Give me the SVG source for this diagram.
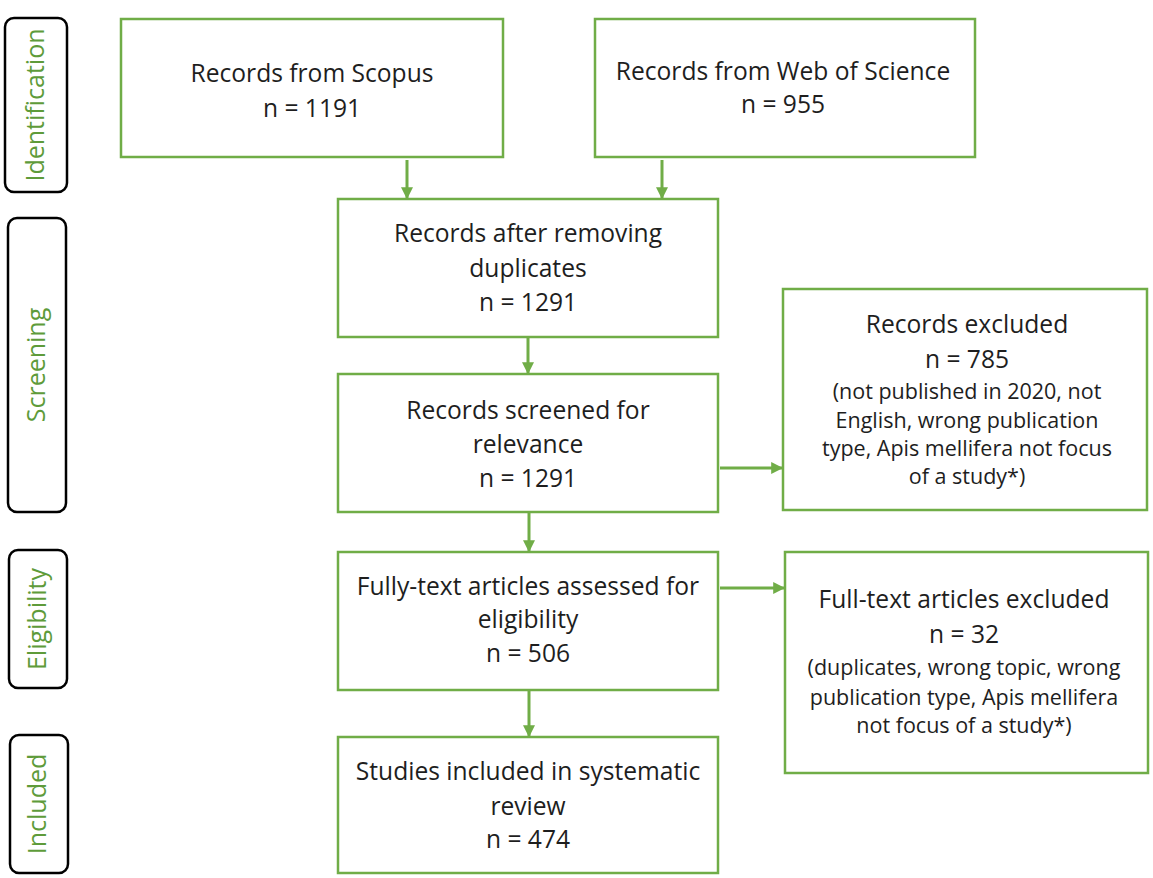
<svg xmlns="http://www.w3.org/2000/svg" width="1153" height="878" viewBox="0 0 1153 878">
  <defs>
    <marker id="arrow" viewBox="0 0 10 10" refX="9" refY="5" markerWidth="4" markerHeight="4" orient="auto" markerUnits="strokeWidth">
      <path d="M0,0 L10,5 L0,10 z" fill="#70AD47"/>
    </marker>
    <style>
      .phase { fill: #ffffff; stroke: #000000; stroke-width: 2.5; }
      .phase-text { fill: #5E9B3A; font-family: "Open Sans", "Liberation Sans", sans-serif; font-size: 25px; text-anchor: middle; }
      .box { fill: #ffffff; stroke: #70AD47; stroke-width: 2.5; }
      .label { fill: #1e1e1e; font-family: "Open Sans", "Liberation Sans", sans-serif; font-size: 24.6px; text-anchor: middle; }
      .small { font-size: 21.5px; }
      .conn { stroke: #70AD47; stroke-width: 3; fill: none; marker-end: url(#arrow); }
    </style>
  </defs>
  <rect width="1153" height="878" fill="#ffffff"/>

  <!-- phase labels -->
  <g id="phase-identification">
    <rect class="phase" x="5" y="18" width="62" height="174" rx="9"/>
    <text class="phase-text" transform="translate(44 105) rotate(-90)">Identification</text>
  </g>
  <g id="phase-screening">
    <rect class="phase" x="8" y="218" width="58" height="294" rx="9"/>
    <text class="phase-text" transform="translate(45 365) rotate(-90)">Screening</text>
  </g>
  <g id="phase-eligibility">
    <rect class="phase" x="9" y="550" width="58" height="138" rx="9"/>
    <text class="phase-text" transform="translate(46 619) rotate(-90)">Eligibility</text>
  </g>
  <g id="phase-included">
    <rect class="phase" x="10" y="735" width="58" height="138" rx="9"/>
    <text class="phase-text" transform="translate(46 804) rotate(-90)">Included</text>
  </g>

  <!-- flow boxes -->
  <g id="scopus">
    <rect class="box" x="121" y="19" width="382" height="138"/>
    <text class="label" x="312" y="82">Records from Scopus</text>
    <text class="label" x="312" y="117">n = 1191</text>
  </g>
  <g id="wos">
    <rect class="box" x="595" y="19" width="380" height="138"/>
    <text class="label" x="783" y="80">Records from Web of Science</text>
    <text class="label" x="783" y="113">n = 955</text>
  </g>
  <g id="deduplicated">
    <rect class="box" x="338" y="199" width="380" height="138"/>
    <text class="label" x="528" y="242">Records after removing</text>
    <text class="label" x="528" y="277">duplicates</text>
    <text class="label" x="528" y="311">n = 1291</text>
  </g>
  <g id="screened">
    <rect class="box" x="338" y="374" width="380" height="138"/>
    <text class="label" x="528" y="419">Records screened for</text>
    <text class="label" x="528" y="453">relevance</text>
    <text class="label" x="528" y="487">n = 1291</text>
  </g>
  <g id="records-excluded">
    <rect class="box" x="783" y="289" width="364" height="221"/>
    <text class="label" x="967" y="333">Records excluded</text>
    <text class="label" x="967" y="368">n = 785</text>
    <text class="label small" x="967" y="399">(not published in 2020, not</text>
    <text class="label small" x="967" y="428">English, wrong publication</text>
    <text class="label small" x="967" y="456">type, Apis mellifera not focus</text>
    <text class="label small" x="967" y="484">of a study*)</text>
  </g>
  <g id="assessed">
    <rect class="box" x="338" y="552" width="380" height="138"/>
    <text class="label" x="528" y="595">Fully-text articles assessed for</text>
    <text class="label" x="528" y="628">eligibility</text>
    <text class="label" x="528" y="662">n = 506</text>
  </g>
  <g id="fulltext-excluded">
    <rect class="box" x="785" y="552" width="363" height="221"/>
    <text class="label" x="964" y="608">Full-text articles excluded</text>
    <text class="label" x="964" y="643">n = 32</text>
    <text class="label small" x="964" y="675">(duplicates, wrong topic, wrong</text>
    <text class="label small" x="964" y="705">publication type, Apis mellifera</text>
    <text class="label small" x="964" y="733">not focus of a study*)</text>
  </g>
  <g id="included">
    <rect class="box" x="338" y="737" width="380" height="136"/>
    <text class="label" x="528" y="780">Studies included in systematic</text>
    <text class="label" x="528" y="815">review</text>
    <text class="label" x="528" y="848">n = 474</text>
  </g>

  <!-- connectors -->
  <g id="connectors">
    <line class="conn" x1="407" y1="160" x2="407" y2="198"/>
    <line class="conn" x1="662" y1="160" x2="662" y2="198"/>
    <line class="conn" x1="528" y1="338" x2="528" y2="373"/>
    <line class="conn" x1="720" y1="468" x2="782" y2="468"/>
    <line class="conn" x1="529" y1="513" x2="529" y2="551"/>
    <line class="conn" x1="720" y1="588" x2="784" y2="588"/>
    <line class="conn" x1="529" y1="691" x2="529" y2="736"/>
  </g>
</svg>
